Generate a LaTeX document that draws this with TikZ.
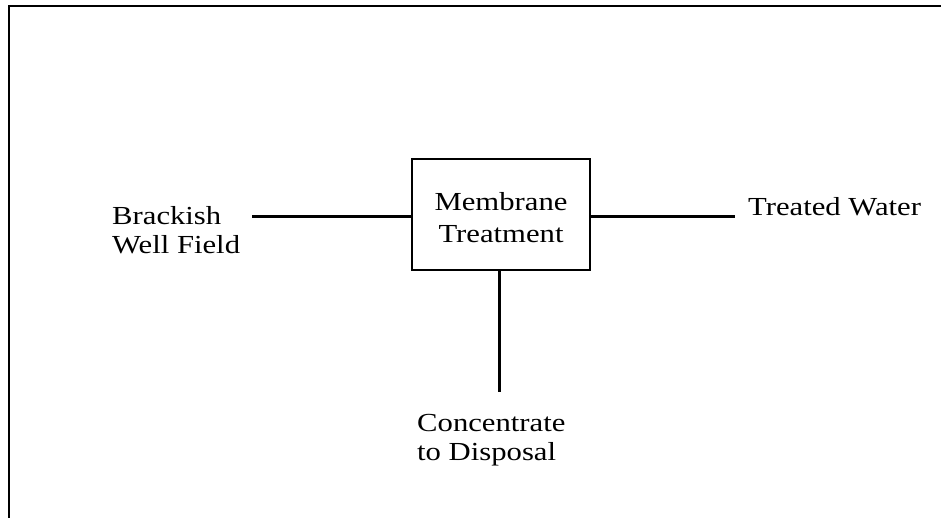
\documentclass[tikz,border=0pt]{standalone}
\usepackage{fontspec}
\setmainfont{Liberation Serif}[FakeStretch=1.18]

\begin{document}
\begin{tikzpicture}[x=1pt, y=-1pt,
    label/.style={inner sep=0pt, align=left, font=\fontsize{26}{29}\selectfont},
    unit/.style={draw, line width=1.5pt, minimum width=178pt, minimum height=111pt, inner sep=0pt, align=center, font=\fontsize{26}{32}\selectfont},
    pipe/.style={line width=3pt}]

    \useasboundingbox (0,0) rectangle (941,518);

    % Frame
    \draw[line width=2pt] (9,518) -- (9,6) -- (941,6);

    % Nodes
    \node[unit] (Membrane) at (501,214.5) {};
    \node[label, align=center] (MembraneText) at (501,218) {Membrane\\[3pt]Treatment};
    \node[label, anchor=west] (WellField) at (112,230) {Brackish\\Well Field};
    \node[label, anchor=west] (Treated) at (748,207) {Treated Water};
    \node[label, anchor=west] (Disposal) at (417,440) {Concentrate\\to Disposal};

    \coordinate (wellend) at (252,217);
    \coordinate (outend) at (735,217);
    \coordinate (drainend) at (499,392);

    % Edges
    \draw[pipe] (wellend) -- (wellend -| Membrane.west);
    \draw[pipe] (Membrane.east |- outend) -- (outend);
    \draw[pipe] (drainend |- Membrane.south) -- (drainend);
\end{tikzpicture}
\end{document}
